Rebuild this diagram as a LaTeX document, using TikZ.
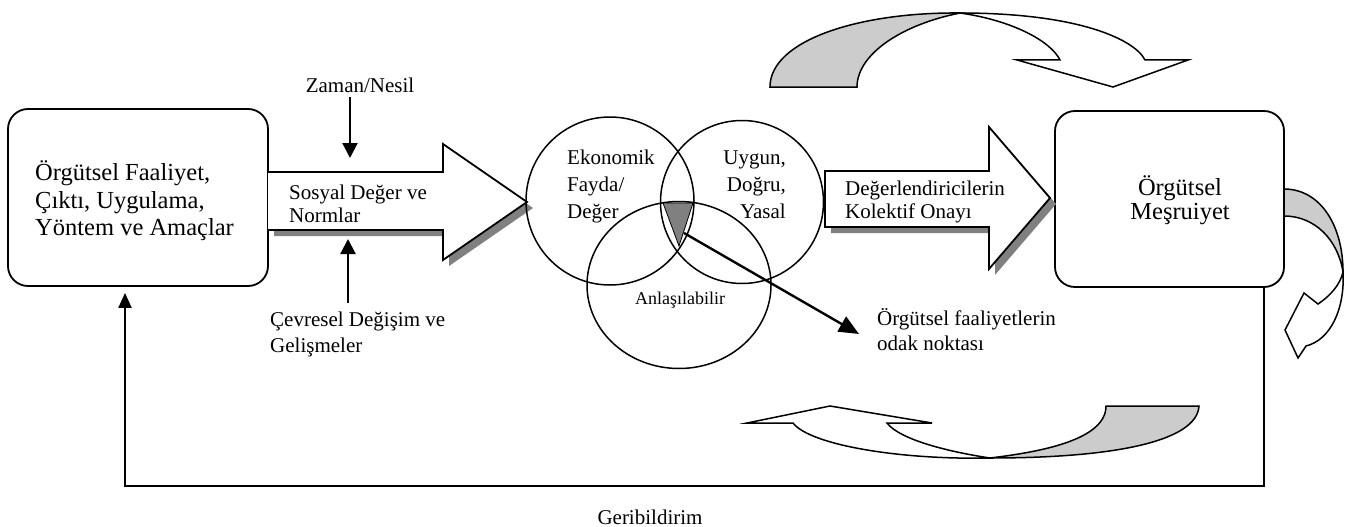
\documentclass[tikz,border=0pt]{standalone}
\usepackage{fontspec}
\setmainfont{Liberation Serif}
\usetikzlibrary{shapes.geometric,arrows.meta,calc}

\begin{document}
\begin{tikzpicture}[x=1pt,y=-1pt,
  txt/.style={font=\fontsize{21}{23}\selectfont, inner sep=0pt},
  bigtxt/.style={font=\fontsize{24.5}{27.5}\selectfont, inner sep=0pt},
  smalltxt/.style={font=\fontsize{18}{21}\selectfont, inner sep=0pt},
  box/.style={draw, line width=1.8pt, rounded corners=20pt, inner sep=0pt},
  ring/.style={draw, line width=1.5pt, inner sep=0pt},
  blockarrow/.style={draw, fill=white, line width=1.8pt, line join=miter},
  shadowfill/.style={fill=black!50},
  ribbonback/.style={draw, fill=black!20, line width=1.5pt},
  ribbonfront/.style={draw, fill=white, line width=1.5pt, line join=miter},
  arr/.style={line width=2.2pt, -{Triangle[length=15pt,width=15pt]}},
  bigarr/.style={line width=2.4pt, -{Triangle[length=20pt,width=17pt]}},
  feed/.style={line width=2pt, -{Triangle[length=15pt,width=13pt]}}
]
\useasboundingbox[fill=white] (0,0) rectangle (1352,527);

% main boxes
\node[box, minimum width=260pt, minimum height=177pt] (act) at (138,197.5) {};
\node[bigtxt, anchor=west, align=left] (actLabel) at (35,201)
  {Örgütsel Faaliyet,\\Çıktı, Uygulama,\\Yöntem ve Amaçlar};
\node[box, minimum width=229pt, minimum height=176pt] (legit) at (1169.5,199) {};
\node[font=\fontsize{24.5}{24}\selectfont, inner sep=0pt, align=center] (legitLabel) at (1180,200)
  {Örgütsel\\Meşruiyet};

% first block arrow with its shadow
\path[shadowfill, shift={(6,6)}] (268,172) -- (443,172) -- (443,144) -- (527,202)
  -- (443,260) -- (443,230) -- (268,230) -- cycle;
\path[fill=white] (268,172) -- (443,172) -- (443,144) -- (527,202)
  -- (443,260) -- (443,230) -- (268,230) -- cycle;
\draw[blockarrow, fill=none] (268,172) -- (443,172) -- (443,144) -- (527,202)
  -- (443,260) -- (443,230) -- (268,230);
\node[txt, anchor=west, align=left] (norms) at (289,203.5) {Sosyal Değer ve\\Normlar};

% second block arrow with its shadow
\path[shadowfill, shift={(6,6)}] (825,171) -- (989,171) -- (989,127) -- (1050,198)
  -- (989,269) -- (989,227) -- (825,227) -- cycle;
\draw[blockarrow] (825,171) -- (989,171) -- (989,127) -- (1050,198)
  -- (989,269) -- (989,227) -- (825,227) -- cycle;
\node[txt, anchor=west, align=left] (approval) at (845,201.5)
  {Değerlendiricilerin\\Kolektif Onayı};

% three overlapping sets
\node[ring, circle, minimum size=168pt] (econ) at (610,201) {};
\node[ring, circle, minimum size=163pt] (fit) at (742,202) {};
\node[ring, ellipse, minimum width=184pt, minimum height=167pt] (clear) at (679,285) {};
\filldraw[fill=black!50, draw=black, line width=0.8pt] (663,203) -- (693,203) -- (679,246) -- cycle;
\coordinate (focus) at (684,233);

\node[font=\fontsize{21}{27}\selectfont, inner sep=0pt, anchor=west, align=left] (econLabel) at (567,186)
  {Ekonomik\\Fayda/\\Değer};
\node[font=\fontsize{21}{27}\selectfont, inner sep=0pt, anchor=east, align=right] (fitLabel) at (786,185)
  {Uygun,\\Doğru,\\Yasal};
\node[smalltxt] (clearLabel) at (680,300) {Anlaşılabilir};

% focus of organisational activities
\node[font=\fontsize{21}{25}\selectfont, inner sep=0pt, anchor=west, align=left] (focusLabel) at (877,330)
  {Örgütsel faaliyetlerin\\odak noktası};
\coordinate (focusTip) at (859,334);
\draw[bigarr] (focus) -- (focusTip);

% external influences
\node[txt] (time) at (360,85) {Zaman/Nesil};
\coordinate (timeTop) at (350,97);
\coordinate (timeTip) at (350,158);
\draw[arr] (timeTop) -- (timeTip);
\node[font=\fontsize{21}{25.5}\selectfont, inner sep=0pt, anchor=west, align=left] (env) at (270,334.5)
  {Çevresel Değişim ve\\Gelişmeler};
\coordinate (envBottom) at (348,303);
\coordinate (envTip) at (348,239);
\draw[arr] (envBottom) -- (envTip);

% feedback loop
\coordinate (fbR) at (1264,486);
\coordinate (fbL) at (125,486);
\draw[feed, line join=miter] (legit.south -| fbR) -- (fbR) -- (fbL) -- ([yshift=-6pt]act.south -| fbL);
\node[txt] (feedback) at (650,517) {Geribildirim};

% curved ribbon arrow above the legitimacy box
\path[ribbonback] (770,87) .. controls (770,40) and (860,12) .. (960,13)
  .. controls (900,25) and (857,55) .. (857,87) -- cycle;
\path[ribbonfront] (960,13) .. controls (1080,13) and (1135,40) .. (1145,60)
  -- (1188,60) -- (1113,87) -- (1017,60) -- (1060,60)
  .. controls (1050,40) and (1010,20) .. (960,13) -- cycle;

% curved ribbon arrow on the right of the legitimacy box
\path[ribbonback] (1284,189) .. controls (1320,189) and (1343,225) .. (1343,272)
  .. controls (1338,240) and (1315,216) .. (1284,216) -- cycle;
\path[ribbonfront] (1343,272) .. controls (1345,310) and (1330,340) .. (1306,346)
  -- (1298,358) -- (1285,330) -- (1304,293) -- (1318,304)
  .. controls (1330,296) and (1340,285) .. (1343,272) -- cycle;

% curved ribbon arrow at the bottom
\path[ribbonback] (1199,406) .. controls (1197,440) and (1120,458) .. (990,458)
  .. controls (1040,452) and (1106,440) .. (1106,406) -- cycle;
\path[ribbonfront] (990,458) .. controls (900,460) and (810,445) .. (793,423)
  -- (747,423) -- (830,406) -- (932,423) -- (887,423)
  .. controls (900,440) and (950,452) .. (990,458) -- cycle;
\end{tikzpicture}
\end{document}
